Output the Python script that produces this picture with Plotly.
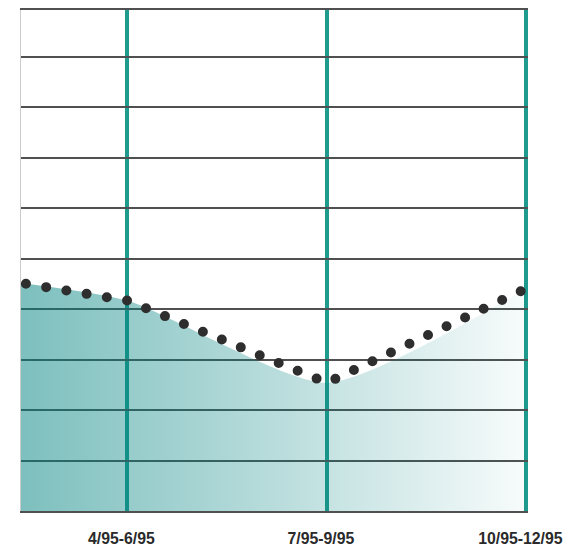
import plotly.graph_objects as go

# Quarterly periods shown on the x axis
periods = ["4/95-6/95", "7/95-9/95", "10/95-12/95"]
period_pos = [1, 2, 3]

# Series: start of the window followed by one value per quarter
series_x = [0.467, 1, 2, 3]
series_y = [4.52, 4.17, 2.54, 4.41]

TEAL = "#1e9a8e"
GRID = "#505050"
DOT = "#2e2e2e"

fig = go.Figure()

# Shaded area under the series, fading from teal to white
fig.add_trace(go.Scatter(
    x=series_x, y=series_y,
    mode="lines",
    line=dict(width=0, shape="spline", smoothing=0.6),
    fill="tozeroy",
    fillgradient=dict(
        type="horizontal",
        colorscale=[[0, "rgba(0,131,128,0.51)"],
                    [0.5, "rgba(0,131,128,0.28)"],
                    [1, "rgba(0,131,128,0.03)"]],
    ),
    hoverinfo="skip",
    showlegend=False,
))

# Dotted series line
fig.add_trace(go.Scatter(
    x=series_x, y=series_y,
    mode="lines",
    line=dict(width=10, color=DOT, dash="0px,20.5px"),
    hoverinfo="skip",
    showlegend=False,
))

fig.update_layout(
    width=564, height=546,
    margin=dict(l=21, r=36, t=10, b=35),
    paper_bgcolor="white",
    plot_bgcolor="white",
    showlegend=False,
)

fig.update_xaxes(
    range=[0.467, 3.008],
    tickmode="array", tickvals=period_pos, ticktext=periods,
    showgrid=True, gridcolor=TEAL, gridwidth=4,
    zeroline=False,
    showline=True, linecolor=GRID, linewidth=1.5, mirror=True,
    ticks="", ticklabelshift=-6, ticklabelstandoff=12,
    ticklabeloverflow="allow", automargin=False,
    tickfont=dict(family="Liberation Sans, Arial, sans-serif",
                  size=15.8, color="#2a2a2a", weight="bold"),
)

fig.update_yaxes(
    range=[0, 9.93],
    dtick=1, tick0=0,
    showgrid=True, gridcolor=GRID, gridwidth=1.5,
    zeroline=False,
    showline=True, linecolor="#cccccc", linewidth=1,
    showticklabels=False, ticks="", automargin=False,
)

# Round caps turn the zero-length dashes into dots
post = """
var gd = document.getElementById('{plot_id}');
function roundDots() {
  var paths = gd.querySelectorAll('.scatterlayer .trace');
  var last = paths[paths.length - 1];
  if (!last) return;
  last.querySelectorAll('.js-line').forEach(function (p) {
    p.style.strokeLinecap = 'round';
    p.style.strokeDashoffset = '15.5px';
  });
}
roundDots();
gd.on('plotly_afterplot', roundDots);
"""

fig.write_html("out.html", post_script=post)
